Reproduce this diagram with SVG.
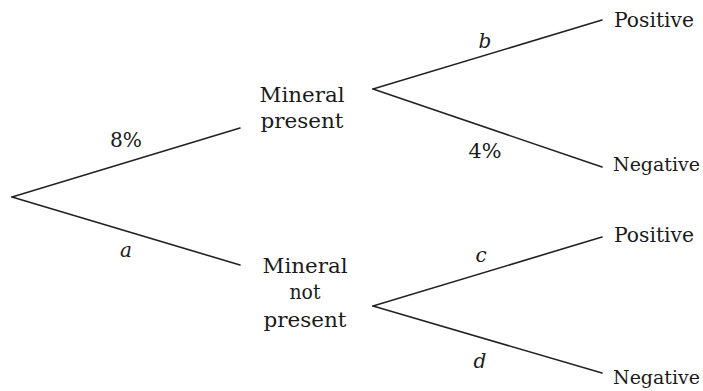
<svg xmlns="http://www.w3.org/2000/svg" width="703" height="391" viewBox="0 0 703 391">
<style>
text{font-family:"DejaVu Serif","Liberation Serif",serif;font-size:20px;fill:#1a1a1a}
.m{text-anchor:middle}
.i{font-style:italic}
.n{font-size:19px}
.br line{stroke:#222;stroke-width:1.6;stroke-linecap:round}
</style>
<rect width="703" height="391" fill="#fff"/>
<g id="connectors" class="br">
<line x1="12" y1="197" x2="240" y2="128"/>
<line x1="12" y1="197" x2="240" y2="265"/>
<line x1="373" y1="89" x2="602" y2="20"/>
<line x1="373" y1="89" x2="602" y2="167"/>
<line x1="373" y1="306" x2="602" y2="237"/>
<line x1="373" y1="306" x2="602" y2="373"/>
<text x="126" y="147" class="m" textLength="32" lengthAdjust="spacingAndGlyphs">8%</text>
<text x="126" y="257" class="m i">a</text>
<text x="485" y="48" class="m i">b</text>
<text x="485" y="158" class="m" textLength="33" lengthAdjust="spacingAndGlyphs">4%</text>
<text x="481" y="262" class="m i">c</text>
<text x="480" y="368" class="m i">d</text>
</g>
<g id="mineral-present">
<text x="302" y="102" class="m" textLength="85" lengthAdjust="spacingAndGlyphs">Mineral</text>
<text x="302" y="128" class="m" textLength="83" lengthAdjust="spacingAndGlyphs">present</text>
</g>
<g id="mineral-not-present">
<text x="305" y="273" class="m" textLength="85" lengthAdjust="spacingAndGlyphs">Mineral</text>
<text x="305" y="299" class="m" textLength="31" lengthAdjust="spacingAndGlyphs">not</text>
<text x="305" y="327" class="m" textLength="83" lengthAdjust="spacingAndGlyphs">present</text>
</g>
<g id="pos1"><text x="614" y="27" textLength="80" lengthAdjust="spacingAndGlyphs">Positive</text></g>
<g id="neg1"><text x="613" y="171" class="n">Negative</text></g>
<g id="pos2"><text x="614" y="242" textLength="80" lengthAdjust="spacingAndGlyphs">Positive</text></g>
<g id="neg2"><text x="613" y="384" class="n">Negative</text></g>
</svg>
